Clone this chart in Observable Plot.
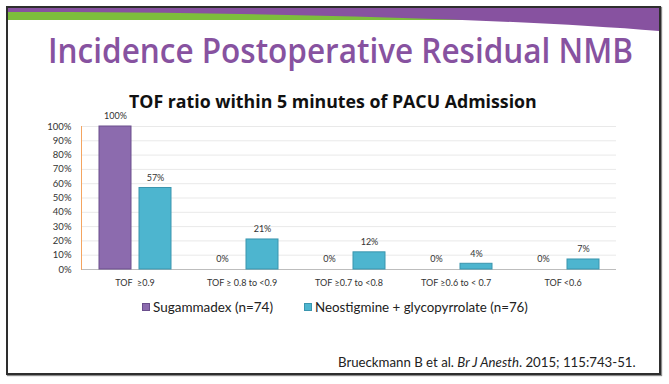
<!DOCTYPE html>
<html>
<head>
<meta charset="utf-8">
<script src="https://cdn.jsdelivr.net/npm/d3@7"></script>
<script src="https://cdn.jsdelivr.net/npm/@observablehq/plot@0.6"></script>
<style>
  html, body { margin: 0; padding: 0; background: #fff; }
  #page { position: relative; width: 669px; height: 384px; overflow: hidden; background: #fff; font-family: Lato, "Open Sans", sans-serif; }
  .t { position: absolute; white-space: pre; line-height: 1; }
  #frame { position: absolute; left: 6px; top: 6px; width: 651px; height: 365px; border: 2px solid #2e2e2e; box-shadow: 1px 1px 1px #8a8a8a; }
  .sw { position: absolute; width: 8px; height: 8px; }
  #chart { position: absolute; left: 0; top: 110px; }
</style>
</head>
<body>
<div id="page">
  <svg id="banner" width="669" height="40" style="position:absolute;left:0;top:0">
    <rect x="8" y="7" width="651" height="13" fill="#7DBE3C"></rect>
    <path d="M8,7 L659,7 L659,31 C500,18 250,12 8,12 Z" fill="#8752A0"></path>
  </svg>
  <div id="frame"></div>
  <div id="chart"></div>
</div>
<script>
// ---- data ----
const categories = ["TOF\u00a0 ≥0.9", "TOF ≥ 0.8 to <0.9", "TOF ≥0.7 to <0.8", "TOF ≥0.6 to < 0.7", "TOF <0.6"];
const series = ["Sugammadex (n=74)", "Neostigmine + glycopyrrolate (n=76)"];
const sugammadex = [100, 0, 0, 0, 0];
const neostigmine = [57, 21, 12, 4, 7];
const yTicks = [0, 10, 20, 30, 40, 50, 60, 70, 80, 90, 100];
const colors = ["#8C6BAE", "#4DB5CF"];
const strokes = ["#6A4E8C", "#3A95AE"];

const mainTitle = "Incidence Postoperative Residual NMB";
const chartTitle = "TOF ratio within 5 minutes of PACU Admission";

const page = document.getElementById("page");

function addText(str, opts) {
  const el = document.createElement("div");
  el.className = "t";
  el.textContent = str;
  Object.assign(el.style, opts.style || {});
  el.style.fontSize = "20px";
  page.appendChild(el);
  const w = el.getBoundingClientRect().width;
  const fs = 20 * opts.width / w;
  el.style.fontSize = fs + "px";
  el.style.left = opts.left + "px";
  el.style.top = (opts.cy - fs / 2) + "px";
  return el;
}

// main title: size from cap height, then squeeze horizontally to fit width
(function () {
  const el = document.createElement("div");
  el.className = "t";
  el.textContent = mainTitle;
  const fs = 33.5;
  Object.assign(el.style, {color: "#8752A0", fontFamily: "'Open Sans', sans-serif", fontWeight: "600", fontSize: fs + "px", transformOrigin: "0 0"});
  page.appendChild(el);
  const w = el.getBoundingClientRect().width;
  el.style.transform = "scaleX(" + (585 / w) + ")";
  el.style.left = "48px";
  el.style.top = (52 - fs * 0.53) + "px";
})();

addText(chartTitle, {left: 129, width: 408, cy: 102, style: {color: "#111", fontWeight: "bold", fontFamily: "'Open Sans', sans-serif"}});

// legend
series.forEach((s, i) => {
  const sw = document.createElement("div");
  sw.className = "sw";
  sw.style.left = [142, 304][i] + "px";
  sw.style.top = "303px";
  sw.style.background = colors[i];
  sw.style.boxShadow = "inset 0 0 0 1px " + strokes[i];
  page.appendChild(sw);
  addText(s, {left: [153, 315][i], width: [120, 213][i], cy: 307.5, style: {color: "#222", fontFamily: "Lato, sans-serif"}});
});

// citation
(function () {
  const el = document.createElement("div");
  el.className = "t";
  el.style.color = "#222";
  el.style.fontFamily = "Lato, sans-serif";
  el.innerHTML = "Brueckmann B et al. <i>Br J Anesth</i>. 2015; 115:743-51.";
  el.style.fontSize = "20px";
  page.appendChild(el);
  const w = el.getBoundingClientRect().width;
  const fs = 20 * 298 / w;
  el.style.fontSize = fs + "px";
  el.style.left = "338px";
  el.style.top = (363 - fs / 2) + "px";
})();

// ---- chart ----
const data = categories.flatMap((c, i) => [
  {category: c, series: series[0], value: sugammadex[i]},
  {category: c, series: series[1], value: neostigmine[i]}
]);

const chart = Plot.plot({
  width: 669,
  height: 185,
  marginLeft: 79,
  marginRight: 52,
  marginTop: 16,
  marginBottom: 26,
  style: {fontFamily: "Lato, sans-serif", fontSize: "9px", color: "#333", background: "transparent", overflow: "visible"},
  fx: {domain: categories, padding: 0, label: null},
  x: {domain: series, paddingInner: 0.2, paddingOuter: 0.41, axis: null},
  y: {domain: [0, 100], label: null},
  marks: [
    Plot.ruleY(yTicks.slice(1), {stroke: "#e9e9e9"}),
    Plot.ruleY([0], {stroke: "#bdbdbd"}),
    Plot.frame({anchor: "left", stroke: "#F4A460", facetAnchor: "left"}),
    ...series.map((s, i) => Plot.barY(data.filter(d => d.series === s && d.value > 0), {
      fx: "category", x: "series", y: "value", fill: colors[i], stroke: strokes[i], strokeWidth: 1
    })),
    Plot.text(data, {fx: "category", x: "series", y: "value", text: d => d.value + "%", dy: -10, fill: "#333", fontSize: 9}),
    Plot.axisY({ticks: yTicks, tickFormat: d => d + "%", tickSize: 0, tickPadding: 10, label: null, fill: "#333", fontSize: 9.5}),
    Plot.axisFx({anchor: "bottom", tickSize: 0, tickPadding: 10, label: null, fill: "#333", fontSize: 9})
  ]
});
document.getElementById("chart").appendChild(chart);
</script>
</body>
</html>
